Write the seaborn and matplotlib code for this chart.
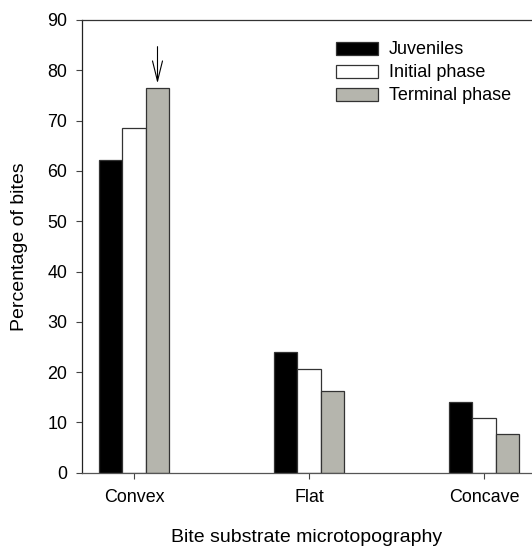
import matplotlib
matplotlib.use("Agg")
import matplotlib.pyplot as plt
import seaborn as sns
import pandas as pd

categories = ["Convex", "Flat", "Concave"]
groups = ["Juveniles", "Initial phase", "Terminal phase"]
juveniles = [62.1, 24.0, 14.0]
initial_phase = [68.6, 20.6, 10.8]
terminal_phase = [76.4, 16.2, 7.6]
colors = ["#000000", "#ffffff", "#b7b7ab"]

rows = []
for g, vals in zip(groups, [juveniles, initial_phase, terminal_phase]):
    for c, v in zip(categories, vals):
        rows.append({"Substrate": c, "Group": g, "Pct": v})
df = pd.DataFrame(rows)

sns.set_style("ticks")
plt.rcParams["font.family"] = ["Liberation Sans", "DejaVu Sans"]
plt.rcParams["text.color"] = "black"
plt.rcParams["axes.labelcolor"] = "black"
plt.rcParams["xtick.labelcolor"] = "black"
plt.rcParams["ytick.labelcolor"] = "black"

fig = plt.figure(figsize=(5.32, 5.46), dpi=100)
ax = fig.add_axes([82 / 532, 1 - 472.7 / 546, 1 - 82 / 532, (472.7 - 20) / 546])

sns.barplot(data=df, x="Substrate", y="Pct", hue="Group", order=categories,
            hue_order=groups, palette=colors, width=0.403, gap=0,
            edgecolor="#333333", linewidth=0.9, ax=ax, legend=True)

ax.set_xlim(-0.297, 2.274)
ax.set_ylim(0, 90)
ax.set_yticks(range(0, 91, 10))
ax.tick_params(axis="y", labelsize=12.9, length=4.5, width=0.8, pad=6,
               color="#444444", labelcolor="black")
ax.tick_params(axis="x", labelsize=12.9, length=4, width=0.8, pad=8,
               color="#444444", labelcolor="black")
for s in ["left", "top", "bottom"]:
    ax.spines[s].set_visible(True)
    ax.spines[s].set_linewidth(0.9)
ax.spines["left"].set_color("#222222")
ax.spines["top"].set_color("#333333")
ax.spines["bottom"].set_color("#555555")
ax.spines["right"].set_visible(False)

ax.set_xlabel("Bite substrate microtopography", fontsize=14, labelpad=16, color="black")
ax.set_ylabel("Percentage of bites", fontsize=14, labelpad=14, color="black")

# arrow above the terminal-phase convex bar
xt = 0 + 0.403 / 3
ax.annotate("", xy=(xt, terminal_phase[0] + 1.0), xytext=(xt, 84.7),
            arrowprops=dict(arrowstyle="->, head_length=1.45, head_width=0.36",
                            mutation_scale=10, lw=0.8, color="black",
                            shrinkA=0, shrinkB=0))

leg = ax.legend(loc="upper left", bbox_to_anchor=(336 / 532, 1 - 41.5 / 546),
                bbox_transform=fig.transFigure, frameon=False, fontsize=13,
                handlelength=2.33, handleheight=0.72, labelspacing=0.33,
                handletextpad=0.6, borderpad=0, borderaxespad=0, title=None)
for t in leg.get_texts():
    t.set_color("black")
for h in leg.legend_handles:
    h.set_edgecolor("#333333")
    h.set_linewidth(0.9)

fig.savefig("out.png", dpi=100)
